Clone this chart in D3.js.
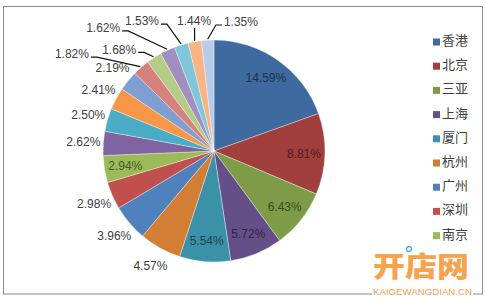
<!DOCTYPE html>
<html><head><meta charset="utf-8">
<script src="https://cdn.jsdelivr.net/npm/d3@7"></script>
<style>body{margin:0;background:#fff}svg{display:block}</style>
</head><body>
<svg id="c" width="486" height="297"></svg>
<script>
// ---- data ----
const categories = ["香港","北京","三亚","上海","厦门","杭州","广州","深圳","南京","c10","c11","c12","c13","c14","c15","c16","c17","c18","c19"];
const values = [14.59, 8.81, 6.43, 5.72, 5.54, 4.57, 3.96, 2.98, 2.94, 2.62, 2.50, 2.41, 2.19, 1.82, 1.68, 1.62, 1.53, 1.44, 1.35];
const legendCount = 9;
const colors = ["#3e6a9f","#a03f3c","#7e9c48","#644f88","#3a91a8","#d27f35",
                "#4f81bd","#c0504d","#9bbb59","#8064a2","#4bacc6","#f79646",
                "#7f9fd3","#d6817e","#b4cc84","#a18fc0","#7fc6da","#f9b483","#b8cbe8"];
// label placement kind per slice: in = inside, out = outside, lead = with leader line
const labelKind = ["in","in","in","in","in","out","out","out","in","out","out","out","out","lead","lead","lead","lead","lead","lead"];
// polar placement (degrees clockwise from top, radius) for leader labels
const leaderLayout = {13:[304.3,172],14:[317,139],15:[318,165.7],16:[331,148.6],17:[351.3,131.5],18:[11.8,131.8]};

const svg = d3.select("#c");
const cx = 214, cy = 151, R = 111;

svg.append("rect").attr("x",3.5).attr("y",6.5).attr("width",479).attr("height",287.5)
  .attr("fill","#fff").attr("stroke","#8a8a8a").attr("stroke-width",1);

const pie = d3.pie().sort(null).value(d=>d);
const arcs = pie(values);
const arc = d3.arc().innerRadius(0).outerRadius(R);
const g = svg.append("g").attr("transform",`translate(${cx},${cy})`);
g.selectAll("path.s").data(arcs).join("path").attr("class","s")
  .attr("d",arc).attr("fill",(d,i)=>colors[i])
  .attr("stroke","rgba(255,255,255,0.45)").attr("stroke-width",0.8);

const polar = (angDeg, r) => { const a = angDeg*Math.PI/180; return [r*Math.sin(a), -r*Math.cos(a)]; };
const mid = d => (d.startAngle + d.endAngle)/2*180/Math.PI;
const fmt = v => v.toFixed(2) + "%";
const font = "'Liberation Sans', Arial, sans-serif";

arcs.forEach((d,i) => {
  const kind = labelKind[i];
  let pos;
  if (kind === "in") pos = polar(mid(d), 90);
  else if (kind === "out") pos = polar(mid(d), 131);
  else pos = polar(leaderLayout[i][0], leaderLayout[i][1]);
  const fill = kind === "in" ? d3.color(colors[i]).darker(2.1).formatHex() : "#404040";
  const t = g.append("text").attr("x",pos[0]).attr("y",pos[1]).attr("dy","0.36em")
    .attr("text-anchor","middle").attr("font-family",font).attr("font-size",12)
    .attr("fill",fill).text(fmt(values[i]));
  if (kind === "lead") {
    const hw = t.node().getComputedTextLength()/2;
    const E = polar(mid(d), 112);
    let pts;
    if (E[0] - pos[0] > hw + 5) {
      const s = [pos[0]+hw+2, pos[1]+3];
      pts = [s, [s[0]+6, s[1]], E];
    } else if (pos[0] - E[0] > hw + 5) {
      const s = [pos[0]-hw-2, pos[1]+3];
      pts = [s, [s[0]-6, s[1]], E];
    } else {
      pts = [[E[0], pos[1]+7], E];
    }
    g.append("path").attr("d", d3.line()(pts)).attr("fill","none")
      .attr("stroke","#111").attr("stroke-width",1.2);
  }
});

// legend
const lg = svg.append("g");
for (let i = 0; i < legendCount; i++) {
  const y = 40 + i*24.2;
  lg.append("rect").attr("x",433).attr("y",y-1.5).attr("width",7).attr("height",7).attr("fill",colors[i]);
  lg.append("text").attr("x",442).attr("y",y).attr("dy","0.38em")
    .attr("font-family","'Noto Sans CJK SC', sans-serif").attr("font-size",13)
    .attr("fill","#404040").text(categories[i]);
}

// watermark
const wm = svg.append("g");
wm.append("rect").attr("x",372).attr("y",245).attr("width",102).attr("height",38).attr("fill","rgba(255,255,255,0.85)");
wm.append("text").attr("x",421).attr("y",277).attr("text-anchor","middle")
  .attr("font-family","'Noto Sans CJK SC', sans-serif").attr("font-weight",900).attr("font-size",28)
  .attr("textLength",96).attr("lengthAdjust","spacingAndGlyphs")
  .attr("fill","#f7a24c").text("开店网");
wm.append("circle").attr("cx",409).attr("cy",249).attr("r",2.5).attr("fill","#fff").attr("stroke","#5aa7e6").attr("stroke-width",1.3);
wm.append("rect").attr("x",372).attr("y",286).attr("width",101).attr("height",10).attr("fill","#fff");
wm.append("text").attr("x",422.5).attr("y",294.5).attr("text-anchor","middle")
  .attr("font-family",font).attr("font-size",9).attr("textLength",99).attr("lengthAdjust","spacingAndGlyphs")
  .attr("fill","#f4a048").text("KAIGEWANGDIAN.CN");
</script>
</body></html>
